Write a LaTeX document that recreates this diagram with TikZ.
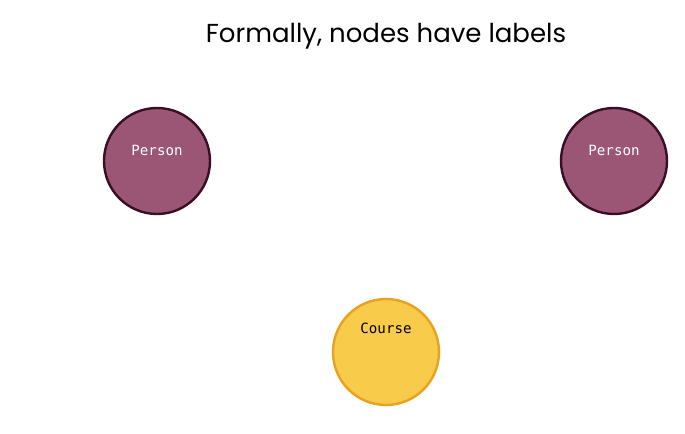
\documentclass[tikz,border=0pt]{standalone}
\usepackage{fontspec}
\setmainfont{Poppins}
\setmonofont{DejaVu Sans Mono}
\definecolor{personFill}{HTML}{9B5676}
\definecolor{personLine}{HTML}{3A0F25}
\definecolor{courseFill}{HTML}{F9CB4B}
\definecolor{courseLine}{HTML}{E9A11F}

\begin{document}
\begin{tikzpicture}[x = 0.75pt, y = -0.75pt]
\tikzstyle{personStyle}=[shape = circle, minimum size = 79.5pt, inner sep = 0pt, line width = 1.8pt, draw = personLine, fill = personFill]
\tikzstyle{courseStyle}=[shape = circle, minimum size = 79.5pt, inner sep = 0pt, line width = 1.8pt, draw = courseLine, fill = courseFill]
\tikzstyle{personText}=[font = \ttfamily\fontsize{10.6}{12}\selectfont, text = white]
\tikzstyle{courseText}=[font = \ttfamily\fontsize{10.6}{12}\selectfont, text = black]
\useasboundingbox (0, 0) rectangle (685, 434);
\node[font = \fontsize{19.5}{23}\selectfont] (title) at (386, 36) {Formally, nodes have labels};
\node[personStyle] (p1) at (157, 161) {};
\node[personStyle] (p2) at (614, 161) {};
\node[courseStyle] (c1) at (386, 352) {};
\node[personText] (p1text) at (157, 150) {Person};
\node[personText] (p2text) at (614, 150) {Person};
\node[courseText] (c1text) at (386, 328) {Course};
\end{tikzpicture}
\end{document}
